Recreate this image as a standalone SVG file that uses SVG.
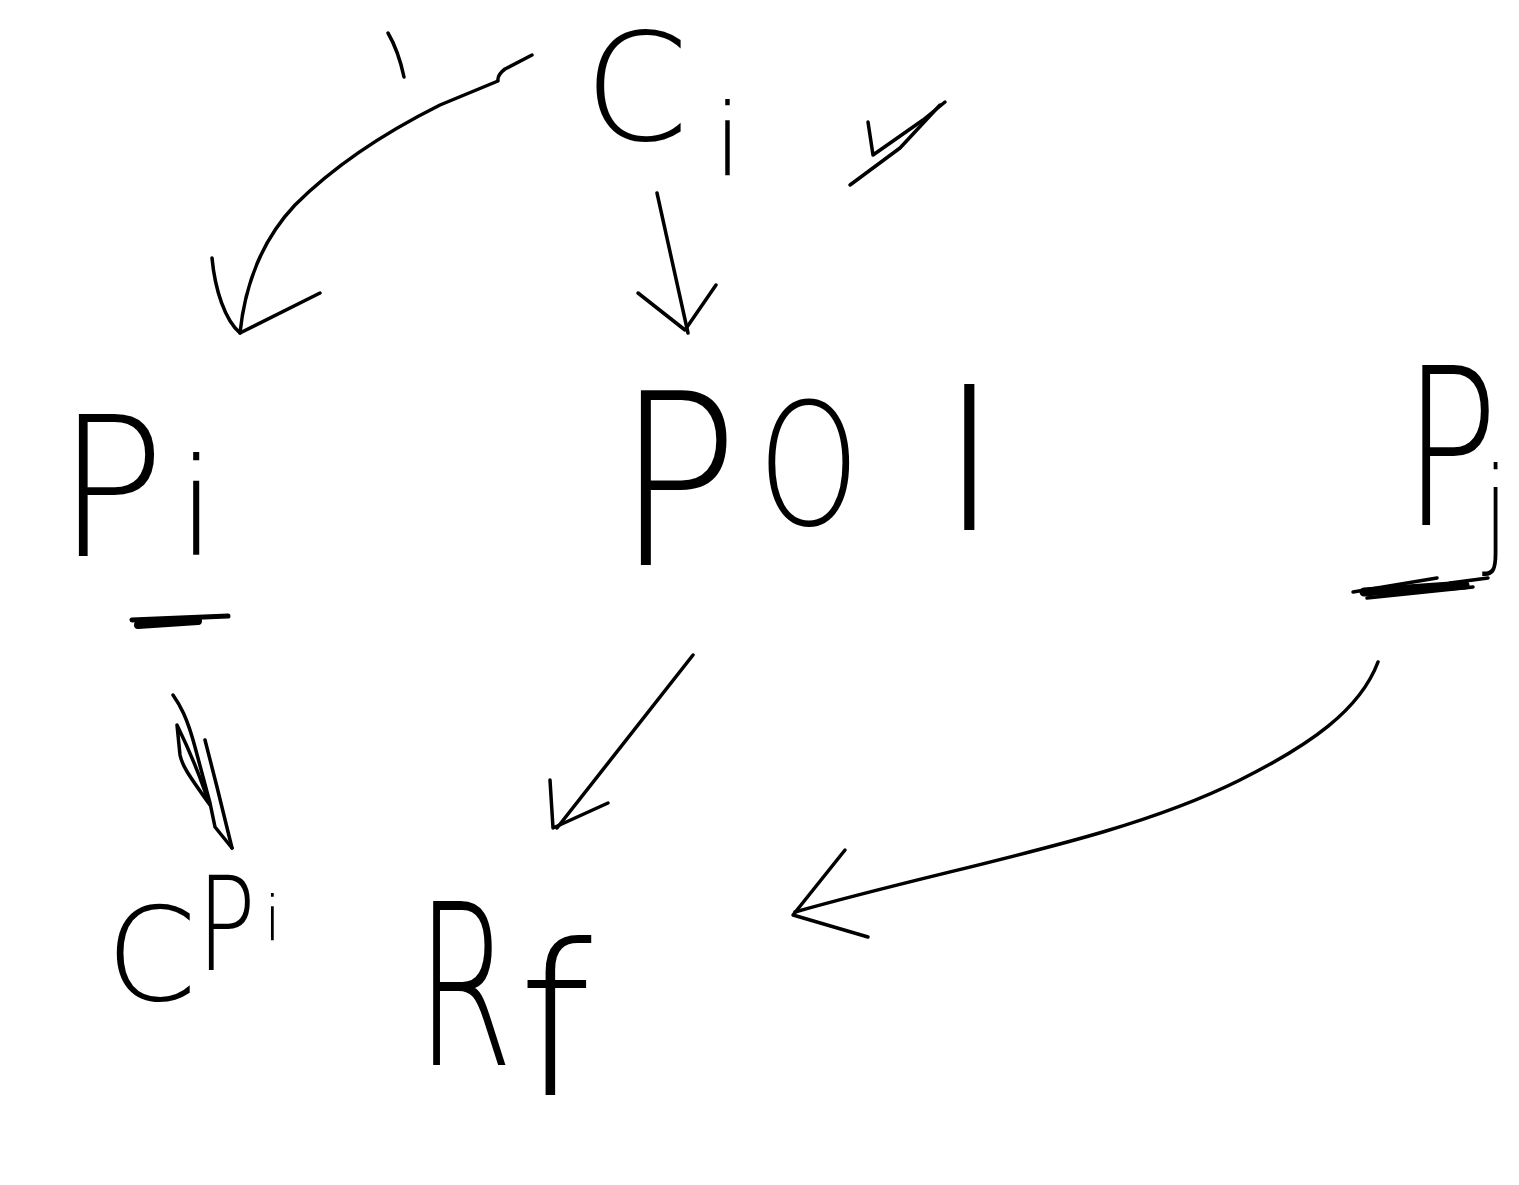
<svg xmlns="http://www.w3.org/2000/svg" width="1519" height="1185" viewBox="0 0 1519 1185">
<style>
.s{fill:none;stroke:#000;stroke-width:3.5;stroke-linecap:round;stroke-linejoin:round}
.t{font-family:"DejaVu Sans","Liberation Sans",sans-serif;font-weight:200;fill:#000}
</style>
<rect width="1519" height="1185" fill="#fff"/>
<g id="node-Ci">
<text class="t" x="584" y="140" font-size="150">C</text>
<text class="t" x="714" y="175" font-size="100">i</text>
</g>
<g id="node-Pi">
<text class="t" font-size="195" transform="translate(57,556) scale(0.92,1)">P</text>
<text class="t" x="178" y="555" font-size="135">i</text>
<path class="s" d="M132,620 L228,616" style="stroke-width:5"/>
<path class="s" d="M138,625 L198,621" style="stroke-width:8"/>
</g>
<g id="node-POI">
<text class="t" font-size="240" transform="translate(616,565) scale(0.85,1)">P</text>
<text class="t" font-size="170" transform="translate(758,525) scale(0.76,1)">O</text>
<text class="t" font-size="200" x="940" y="530">I</text>
</g>
<g id="node-Pj">
<text class="t" transform="translate(1403,525) scale(0.72,1)"><tspan x="0" y="0" font-size="220">P</tspan><tspan x="112" y="27" font-size="118">j</tspan></text>
<path class="s" d="M1353,592 L1437,578"/>
<path class="s" d="M1367,598 L1473,587"/>
<path class="s" d="M1450,583 L1488,578"/>
<path class="s" d="M1364,592 L1465,585" style="stroke-width:9"/>
</g>
<g id="node-CPi">
<text class="t" x="106" y="1000" font-size="130">C</text>
<text class="t" font-size="130" transform="translate(197,970) scale(0.75,1)">P</text>
<text class="t" x="264" y="940" font-size="62">i</text>
</g>
<g id="node-Rf">
<text class="t" font-size="225" transform="translate(416,1065) scale(0.62,1)">R</text>
<text class="t" x="518" y="1095" font-size="210">f</text>
</g>
<g id="connectors">
<path class="s" d="M532,55 L505,69 Q497,75 498,81 L440,105 C380,135 330,170 295,205 C262,240 245,285 240,333"/>
<path class="s" d="M212,258 C215,290 225,320 240,333 L320,293"/>
<path class="s" d="M388,33 C395,45 400,58 404,77"/>
<path class="s" d="M657,193 L688,333"/>
<path class="s" d="M638,293 L685,330 L716,285"/>
<path class="s" d="M693,655 L557,828"/>
<path class="s" d="M550,780 L553,828 L608,803"/>
<path class="s" d="M1378,662 C1360,710 1310,745 1240,780 C1120,840 960,865 795,912"/>
<path class="s" d="M845,850 L793,915 L868,937"/>
<path class="s" d="M173,695 C180,705 187,717 195,747 L210,803 L215,827 L232,848"/>
<path class="s" d="M177,725 L180,755 C182,765 187,773 210,805 C204,790 199,770 177,725 Z"/>
<path class="s" d="M205,740 L217,787 L232,848"/>
<path class="s" d="M868,122 L873,155 L923,120 L945,102"/>
<path class="s" d="M850,185 L900,148 L940,105"/>
</g>
</svg>
